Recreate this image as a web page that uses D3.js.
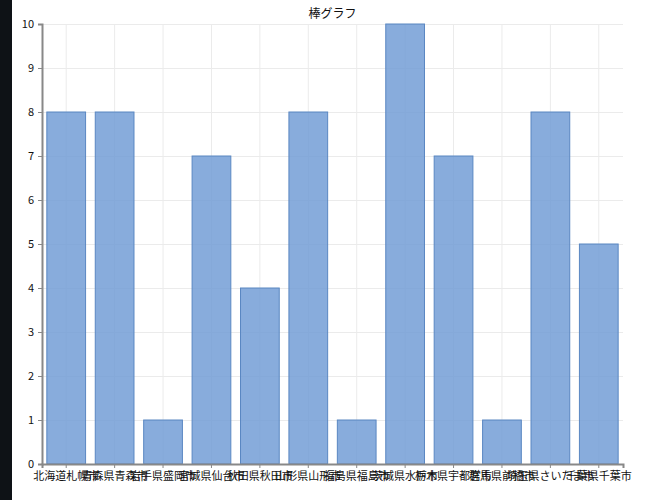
<!DOCTYPE html>
<html>
<head>
<meta charset="utf-8">
<script src="https://cdn.jsdelivr.net/npm/d3@7"></script>
<style>
  body { margin: 0; background: #fff; }
  #strip { position: absolute; left: 0; top: 0; width: 12px; height: 500px; background: #0e1216; }
  text { font-family: "Noto Sans CJK JP", "Noto Sans", sans-serif; fill: #111; }
</style>
</head>
<body>
<div id="strip"></div>
<div id="chart"></div>
<script>
// values
var cities = ["北海道札幌市", "青森県青森市", "岩手県盛岡市", "宮城県仙台市", "秋田県秋田市", "山形県山形市",
              "福島県福島市", "茨城県水戸市", "栃木県宇都宮市", "群馬県前橋市", "埼玉県さいたま市", "千葉県千葉市"];
var counts = [8, 8, 1, 7, 4, 8, 1, 10, 7, 1, 8, 5];
var yTicks = [0, 1, 2, 3, 4, 5, 6, 7, 8, 9, 10];
var title = "棒グラフ";

var margin = {top: 24, right: 38, bottom: 36, left: 42},
    width = 661 - margin.left - margin.right,
    height = 500 - margin.top - margin.bottom;

var x = d3.scaleBand()
    .domain(cities)
    .range([0, width])
    .paddingInner(0.2)
    .paddingOuter(0.1);

var y = d3.scaleLinear()
    .domain([0, 10])
    .range([height, 0]);

var svg = d3.select("#chart").append("svg")
    .attr("width", 661)
    .attr("height", 500)
  .append("g")
    .attr("transform", "translate(" + margin.left + "," + margin.top + ")");

// grid
svg.append("g")
    .selectAll("line.h")
    .data(yTicks)
    .enter().append("line")
    .attr("x1", 0).attr("x2", width)
    .attr("y1", d => y(d) + 0.5).attr("y2", d => y(d) + 0.5)
    .attr("stroke", "#ebebeb");

svg.append("g")
    .selectAll("line.v")
    .data(cities)
    .enter().append("line")
    .attr("x1", d => x(d) + x.bandwidth() / 2).attr("x2", d => x(d) + x.bandwidth() / 2)
    .attr("y1", 0).attr("y2", height)
    .attr("stroke", "#ebebeb");

// bars
svg.append("g")
    .selectAll("rect")
    .data(counts)
    .enter().append("rect")
    .attr("x", (d, i) => x(cities[i]))
    .attr("y", d => y(d))
    .attr("width", x.bandwidth())
    .attr("height", d => height - y(d))
    .attr("fill", "#6e9ad4")
    .attr("fill-opacity", 0.82)
    .attr("stroke", "#5a87c2")
    .attr("stroke-width", 1);

// axes
var xAxis = d3.axisBottom(x).tickSize(4).tickPadding(4);
var yAxis = d3.axisLeft(y).tickValues(yTicks).tickSize(4).tickPadding(4);

var gx = svg.append("g")
    .attr("transform", "translate(0," + height + ")")
    .call(xAxis);
var gy = svg.append("g").call(yAxis);

[gx, gy].forEach(function(g) {
  g.select(".domain").attr("stroke", "#888").attr("stroke-width", 2);
  g.selectAll(".tick line").attr("stroke", "#888");
  g.selectAll("text").style("font-size", "11px").attr("fill", "#111")
    .style("font-family", "'Noto Sans CJK JP', sans-serif");
});

svg.append("text")
    .attr("x", width / 2)
    .attr("y", -6)
    .attr("text-anchor", "middle")
    .style("font-size", "12px")
    .text(title);
</script>
</body>
</html>
